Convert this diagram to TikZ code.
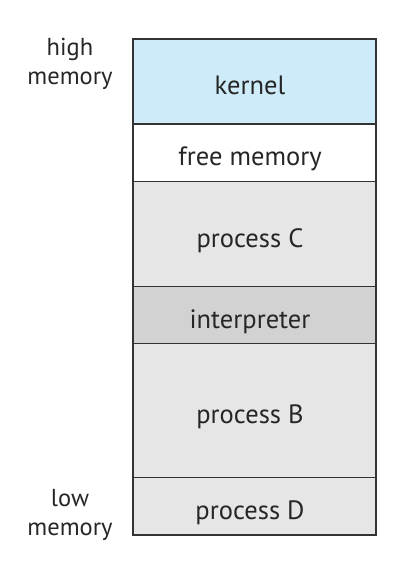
\documentclass[tikz,border=0pt]{standalone}
\usepackage{fontspec}
\setmainfont{PT Sans}
\begin{document}
\begin{tikzpicture}[x=1pt,y=-1pt,
  blk/.style={draw=black!80,line width=1.1pt,anchor=north west,minimum width=243pt,inner sep=0pt,outer sep=0pt,font=\fontsize{26.5}{30}\selectfont,text=black!85,text height=26pt,text depth=0pt,execute at end node={\hspace*{9pt}}},
  side/.style={font=\fontsize{24.5}{29}\selectfont,text=black!85,align=center}]
\useasboundingbox (0,0) rectangle (405,578);
\definecolor{kern}{HTML}{CDEBF9}
\definecolor{proc}{HTML}{E6E6E6}
\definecolor{interp}{HTML}{D2D2D2}
\node[blk,fill=kern,minimum height=85pt] (kernel) at (133,39) {kernel};
\node[blk,fill=white,minimum height=57.5pt] (free) at (133,124) {free memory};
\node[blk,fill=proc,minimum height=105pt] (pc) at (133,181.5) {process C};
\node[blk,fill=interp,minimum height=57pt] (interp) at (133,286.5) {interpreter};
\node[blk,fill=proc,minimum height=134pt] (pb) at (133,343.5) {process B};
\node[blk,fill=proc,minimum height=57.5pt] (pd) at (133,477.5) {process D};
\node[side] (high) at (70,63.5) {high\\memory};
\node[side] (low) at (70,515) {low\\memory};
\end{tikzpicture}
\end{document}
